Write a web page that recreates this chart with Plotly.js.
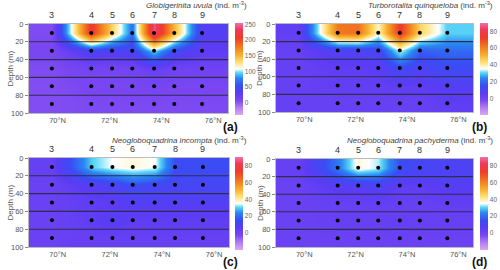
<!DOCTYPE html>
<html><head><meta charset="utf-8">
<script src="https://cdn.plot.ly/plotly-3.0.1.min.js"></script>
<style>html,body{margin:0;padding:0;background:#fff}#chart{width:500px;height:270px}</style>
</head><body><div id="chart"></div>
<script>
const stations = ['3','4','5','6','7','8','9'];
const stationLat = [69.78, 71.3, 72.1, 72.88, 73.72, 74.5, 75.57];
const depths = [10, 30, 50, 70, 90];
const latTicks = [70, 72, 74, 76];
const latTickText = ['70°N', '72°N', '74°N', '76°N'];

// rows = depths, columns = stations
const uvula = [
  [5, 215, 135, 70, 245, 150, 35],
  [8, 40, 36, 42, 95, 48, 28],
  [5, 12, 10, 12, 22, 15, 15],
  [4, 8, 8, 8, 10, 8, 8],
  [4, 6, 6, 6, 6, 6, 6]
];
const quinqueloba = [
  [4, 62, 63, 38, 74, 45, 30],
  [3, 10, 10, 12, 35, 18, 20],
  [3, 5, 5, 6, 14, 10, 14],
  [3, 4, 4, 4, 5, 5, 8],
  [3, 3, 3, 3, 3, 3, 5]
];
const incompta = [
  [3, 30, 35, 37, 35, 15, 15],
  [2, 8, 10, 15, 12, 12, 12],
  [2, 5, 5, 8, 8, 8, 8],
  [2, 5, 8, 5, 5, 5, 5],
  [2, 3, 3, 3, 3, 3, 3]
];
const pachyderma = [
  [3, 22, 37, 33, 15, 12, 10],
  [2, 8, 8, 10, 5, 5, 8],
  [2, 3, 3, 4, 3, 3, 4],
  [2, 3, 3, 3, 4, 3, 3],
  [2, 2, 2, 2, 2, 2, 2]
];

const panels = [
  {z: uvula, name: 'Globigerinita uvula', zmin: -40, zmax: 255, ticks: [0,50,100,150,200,250], label: '(a)'},
  {z: quinqueloba, name: 'Turborotalita quinqueloba', zmin: -20, zmax: 90, ticks: [0,20,40,60,80], label: '(b)'},
  {z: incompta, name: 'Neogloboquadrina incompta', zmin: -20, zmax: 90, ticks: [0,20,40,60,80], label: '(c)'},
  {z: pachyderma, name: 'Neogloboquadrina pachyderma', zmin: -20, zmax: 90, ticks: [0,20,40,60,80], label: '(d)'}
];

const xRange = [68.9, 76.57];
const cs = [
  [0.0, '#dca8f2'], [0.08, '#b27cf2'], [0.16, '#7a46f2'], [0.24, '#5a3cf4'],
  [0.32, '#3a4cf4'], [0.40, '#2a86f2'], [0.46, '#5cd8f6'], [0.50, '#ffffff'],
  [0.57, '#ffe27a'], [0.65, '#f8b030'], [0.74, '#f27a1e'], [0.84, '#f03a2a'],
  [0.93, '#f03a5a'], [1.0, '#f070a8']
];

// geometry (pixels -> paper)
const W = 500, H = 270;
const geo = [
  {x0: 29, x1: 228, y0: 24, y1: 113, cbx: 235, cby0: 23, cby1: 115, tx: 249, ty: 5, lx: 240, ly: 127, dx: 10},
  {x0: 276, x1: 473, y0: 24, y1: 112, cbx: 480, cby0: 23, cby1: 115, tx: 495, ty: 5, lx: 489, ly: 127, dx: 260},
  {x0: 29, x1: 229, y0: 158, y1: 247, cbx: 235, cby0: 157, cby1: 250, tx: 249, ty: 140, lx: 240, ly: 262, dx: 10},
  {x0: 276, x1: 473, y0: 159, y1: 247, cbx: 480, cby0: 157, cby1: 250, tx: 495, ty: 140, lx: 489, ly: 262, dx: 260}
];

// edge extension of the station grid so the field fills the plot area
const xPad = [xRange[0] - 0.1].concat(stationLat, [xRange[1] + 0.1]);
const yPad = [0].concat(depths, [100]);
function pad(z) {
  const rows = z.map(r => [r[0]].concat(r, [r[r.length - 1]]));
  return [rows[0]].concat(rows, [rows[rows.length - 1]]);
}

const traces = [], annotations = [], shapes = [];
const layout = {
  width: W, height: H, margin: {l: 0, r: 0, t: 0, b: 0},
  paper_bgcolor: '#fff', plot_bgcolor: '#fff',
  font: {family: 'Liberation Sans, Arial, sans-serif', size: 8, color: '#555'},
  showlegend: false
};

panels.forEach((p, i) => {
  const g = geo[i];
  const xa = 'x' + (i ? i + 1 : ''), ya = 'y' + (i ? i + 1 : '');
  const xk = 'xaxis' + (i ? i + 1 : ''), yk = 'yaxis' + (i ? i + 1 : '');
  layout[xk] = {
    domain: [g.x0 / W, g.x1 / W], range: xRange, anchor: ya,
    tickvals: latTicks, ticktext: latTickText, ticks: '', showgrid: false, zeroline: false,
    showline: true, mirror: true, linecolor: '#bbb', linewidth: 1,
    tickfont: {size: 7.5, color: '#555'}
  };
  layout[yk] = {
    domain: [1 - g.y1 / H, 1 - g.y0 / H], range: [100, 0], anchor: xa,
    tickvals: [0, 20, 40, 60, 80, 100], ticks: 'outside', ticklen: 3, tickcolor: '#888',
    showgrid: false, zeroline: false, showline: true, mirror: true, linecolor: '#bbb', linewidth: 1,
    tickfont: {size: 7.5, color: '#555'}
  };
  traces.push({
    type: 'heatmap', x: xPad, y: yPad, z: pad(p.z), xaxis: xa, yaxis: ya,
    zsmooth: 'best', colorscale: cs, zmin: p.zmin, zmax: p.zmax, hoverinfo: 'skip',
    colorbar: {
      x: g.cbx / W, xanchor: 'left', y: 1 - (g.cby0 + g.cby1) / 2 / H, yanchor: 'middle',
      len: g.cby1 - g.cby0, lenmode: 'pixels', thickness: 8, thicknessmode: 'pixels',
      xpad: 0, ypad: 0, outlinewidth: 0, tickvals: p.ticks, ticks: '',
      tickfont: {size: 6.5, color: '#666'}
    }
  });
  const px = [], py = [];
  depths.forEach(d => stationLat.forEach(s => { px.push(s); py.push(d); }));
  traces.push({type: 'scatter', mode: 'markers', x: px, y: py, xaxis: xa, yaxis: ya,
    marker: {color: '#000', size: 4}, hoverinfo: 'skip'});
  [20, 40, 60, 80].forEach(d => shapes.push({
    type: 'line', xref: xa + ' domain', yref: ya, x0: 0, x1: 1, y0: d, y1: d,
    line: {color: '#2e2e4a', width: 1.1}, layer: 'above'
  }));
  stations.forEach((s, k) => annotations.push({
    xref: xa, yref: ya + ' domain', x: stationLat[k], y: 1, yanchor: 'bottom', yshift: 2,
    text: s, showarrow: false, font: {size: 9, color: '#333'}
  }));
  annotations.push({
    xref: 'paper', yref: 'paper', x: g.tx / W, y: 1 - g.ty / H, xanchor: 'right', yanchor: 'middle',
    text: '<i>' + p.name + '</i> (ind. m<sup>-3</sup>)', showarrow: false,
    font: {size: 8, color: '#444'}
  });
  annotations.push({
    xref: 'paper', yref: 'paper', x: g.lx / W, y: 1 - g.ly / H, xanchor: 'right', yanchor: 'middle',
    text: '<b>' + p.label + '</b>', showarrow: false, font: {size: 12, color: '#111'}
  });
  annotations.push({
    xref: 'paper', yref: 'paper', x: g.dx / W, y: 1 - (g.y0 + g.y1) / 2 / H, xanchor: 'center', yanchor: 'middle',
    text: 'Depth (m)', textangle: -90, showarrow: false, font: {size: 8, color: '#555'}
  });
});
layout.annotations = annotations;
layout.shapes = shapes;
Plotly.newPlot('chart', traces, layout, {staticPlot: true});
</script></body></html>
